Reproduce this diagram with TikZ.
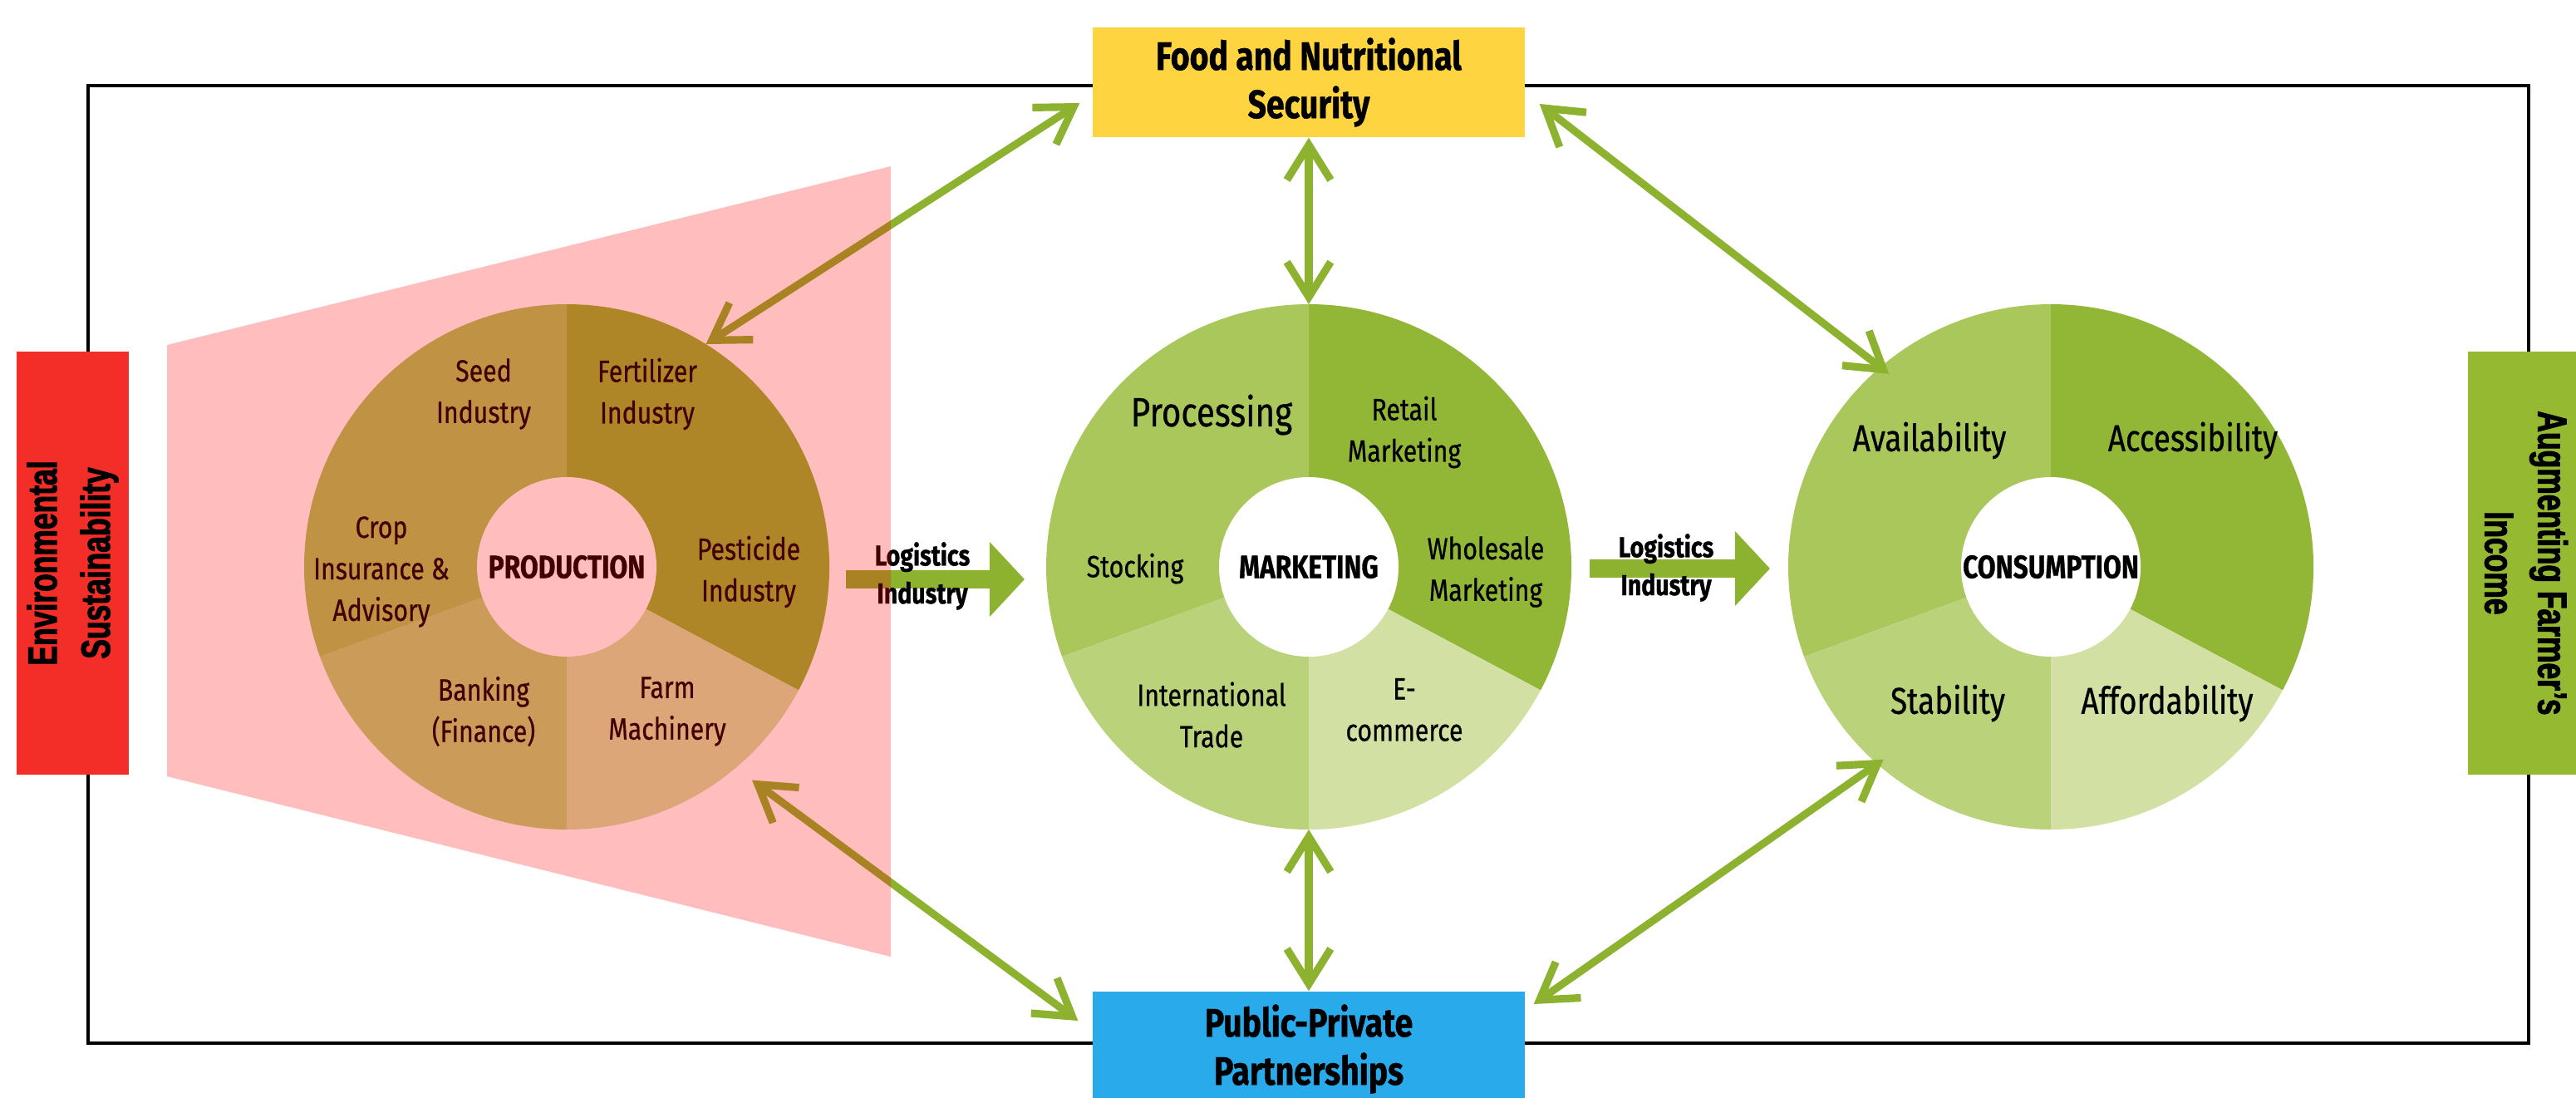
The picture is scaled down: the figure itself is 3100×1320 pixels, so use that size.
\documentclass[tikz,border=0pt]{standalone}
\usepackage{fontspec}
\setmainfont{Fira Sans}[FakeStretch=0.82, UprightFeatures={FakeBold=0.6}, BoldFeatures={FakeBold=0.8}]
\newfontfamily\sidefont{Liberation Sans}[FakeStretch=0.72, BoldFeatures={FakeBold=2}]
\usetikzlibrary{arrows.meta}

\definecolor{leafdark}{RGB}{146,182,54}
\definecolor{leafmid}{RGB}{170,199,92}
\definecolor{leaflight}{RGB}{186,210,122}
\definecolor{leafpale}{RGB}{210,225,163}
\definecolor{arrowgreen}{RGB}{140,178,48}
\definecolor{foodyellow}{RGB}{254,212,64}
\definecolor{pppblue}{RGB}{40,170,235}
\definecolor{envred}{RGB}{243,45,40}
\definecolor{incomegreen}{RGB}{150,185,50}

\begin{document}
\begin{tikzpicture}[x=0.1mm, y=0.1mm,
                    every node/.style={align=center, inner sep=0pt},
                    seglabel/.style={font=\fontsize{10.5}{14.2}\selectfont},
                    biglabel/.style={font=\fontsize{12.8}{15}\selectfont},
                    hub/.style={circle,
                      fill=white,
                      minimum size=21.6mm,
                      font=\bfseries\fontsize{11}{13}\selectfont},
                    goalbox/.style={rectangle,
                      minimum width=52mm,
                      font=\bfseries\fontsize{13.6}{16.5}\selectfont},
                    sidebox/.style={rectangle,
                      minimum width=50.9mm,
                      font=\sidefont\bfseries\fontsize{14}{18.2}\selectfont},
                    biarrow/.style={draw=arrowgreen, line width=2.6pt,
                      {Straight Barb[length=12pt,width=15pt]}-{Straight Barb[length=12pt,width=15pt]}},
                    logarrow/.style={draw=arrowgreen, line width=6pt,
                      -{Triangle[length=12pt,width=25pt]}},
                    loglabel/.style={font=\bfseries\fontsize{9.9}{13}\selectfont}]
\useasboundingbox (0,0) rectangle (3100,1320);
\draw[line width=1.4pt] (106,65) rectangle (3043,1217);

\node[sidebox, fill=envred, minimum height=13.5mm, rotate=90] (env) at (87.5,642.5) {Environmental\\Sustainability};
\node[sidebox, fill=incomegreen, minimum height=14mm, rotate=-90] (income) at (3040,642.5) {Augmenting Farmer’s\\Income};
\node[goalbox, fill=foodyellow, minimum height=13.2mm] (food) at (1575,1221) {Food and Nutritional\\Security};
\node[goalbox, fill=pppblue, minimum height=13.8mm] (ppp) at (1575,58) {Public-Private\\Partnerships};

\foreach \hubc in {(682,638), (1575,638), (2468,638)}
  \foreach \a/\b/\col in {-28/90/leafdark, 90/200/leafmid, 200/270/leaflight, 270/332/leafpale}
    \fill[\col] \hubc -- ++(\a:316) arc[start angle=\a, end angle=\b, radius=316] -- cycle;

\node[hub] (prod) at (682,638) {PRODUCTION};
\node[hub] (mkt) at (1575,638) {MARKETING};
\node[hub] (cons) at (2468,638) {\raisebox{-2mm}{CONSUMPTION}};

\node[seglabel] (seed) at (582,846) {Seed\\Industry};
\node[seglabel] (fert) at (779,846) {Fertilizer\\Industry};
\node[seglabel] (pest) at (901,632) {Pesticide\\Industry};
\node[seglabel] (farm) at (803,464) {Farm\\Machinery};
\node[seglabel] (bank) at (582,464) {Banking\\(Finance)};
\node[seglabel] (crop) at (459,632) {Crop\\Insurance \&\\Advisory};

\node[font=\fontsize{14}{16}\selectfont] (proc) at (1458,821) {Processing};
\node[seglabel] (retail) at (1690,800) {Retail\\Marketing};
\node[seglabel] (whole) at (1788,632) {Wholesale\\Marketing};
\node[seglabel] (ecom) at (1690,466) {E-\\commerce};
\node[seglabel] (intl) at (1458,460) {International\\Trade};
\node[seglabel] (stock) at (1366,636) {Stocking};

\node[biglabel] (avail) at (2322,790) {Availability};
\node[biglabel] (access) at (2639,790) {Accessibility};
\node[biglabel] (stab) at (2344,474) {Stability};
\node[biglabel] (afford) at (2608,474) {Affordability};

\draw[biarrow] ([shift={(-15,-25)}]food.west) -- ([shift={(58:316)}]prod.center);
\draw[biarrow] (food.south) -- ([shift={(90:316)}]mkt.center);
\draw[biarrow] ([shift={(17,-26)}]food.east) -- ([shift={(130:303)}]cons.center);
\draw[biarrow] ([shift={(-17,34)}]ppp.west) -- ([shift={(-49:340)}]prod.center);
\draw[biarrow] (ppp.north) -- ([shift={(-90:316)}]mkt.center);
\draw[biarrow] ([shift={(10,54)}]ppp.east) -- ([shift={(-131:307)}]cons.center);

\coordinate (lgA) at (1018,623);
\coordinate (lgB) at (1233,623);
\coordinate (lgC) at (1913,636);
\coordinate (lgD) at (2130,636);
\draw[logarrow] (lgA) -- (lgB);
\draw[logarrow] (lgC) -- (lgD);
\node[loglabel] (lg1) at (1110,627) {Logistics\\Industry};
\node[loglabel] (lg2) at (2005,637) {Logistics\\Industry};

\fill[red, opacity=0.26] (201,905) -- (1072,1120) -- (1072,169) -- (201,386) -- cycle;
\end{tikzpicture}
\end{document}
